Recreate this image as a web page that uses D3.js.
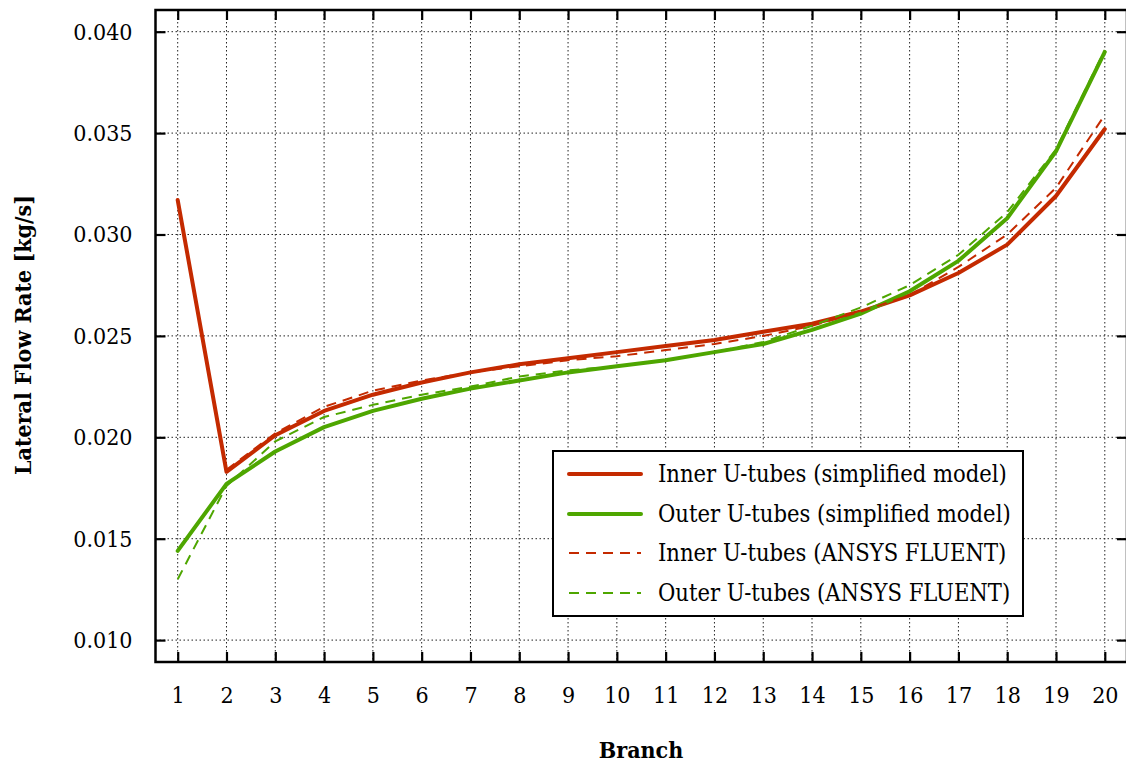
<!DOCTYPE html>
<html>
<head>
<meta charset="utf-8">
<script src="https://cdn.jsdelivr.net/npm/d3@7"></script>
<style>
  body { margin: 0; background: #fff; }
  svg text { font-family: "DejaVu Serif Condensed", "DejaVu Serif", serif; fill: #000; }
</style>
</head>
<body>
<div id="chart"></div>
<script>
// branches 1..20
var branches = d3.range(1, 21);

// lateral flow rate [kg/s]
var innerSimplified = [0.0317, 0.0183, 0.0201, 0.0213, 0.0221, 0.0227, 0.0232, 0.0236, 0.0239, 0.0242,
                       0.0245, 0.0248, 0.0252, 0.0256, 0.0262, 0.0270, 0.0281, 0.0295, 0.0319, 0.0352];
var outerSimplified = [0.0144, 0.0177, 0.0193, 0.0205, 0.0213, 0.0219, 0.0224, 0.0228, 0.0232, 0.0235,
                       0.0238, 0.0242, 0.0246, 0.0253, 0.0261, 0.0272, 0.0287, 0.0308, 0.0341, 0.0390];
var innerFluent = [null, 0.0184, 0.0202, 0.0215, 0.0223, 0.0228, 0.0232, 0.0235, 0.0238, 0.0240,
                   0.0243, 0.0246, 0.0250, 0.0255, 0.0262, 0.0270, 0.0284, 0.0300, 0.0323, 0.0359];
var outerFluent = [0.0130, 0.0176, 0.0198, 0.0210, 0.0216, 0.0221, 0.0225, 0.0230, 0.0233, 0.0235,
                   0.0238, 0.0242, 0.0247, 0.0255, 0.0264, 0.0275, 0.0290, 0.0311, 0.0342, 0.0391];

var seriesNames = ["Inner U-tubes (simplified model)", "Outer U-tubes (simplified model)",
                   "Inner U-tubes (ANSYS FLUENT)", "Outer U-tubes (ANSYS FLUENT)"];
var yTicks = [0.010, 0.015, 0.020, 0.025, 0.030, 0.035, 0.040];

var red = "#c42a00";
var green = "#4ea600";

var series = [
  { name: seriesNames[0], values: innerSimplified, color: red, width: 4, dash: null },
  { name: seriesNames[1], values: outerSimplified, color: green, width: 4, dash: null },
  { name: seriesNames[2], values: innerFluent, color: red, width: 2, dash: "10,7" },
  { name: seriesNames[3], values: outerFluent, color: green, width: 2, dash: "10,7" }
];

var W = 1126, H = 764;
// plot box edges (note: "top" would clash with window.top)
var pLeft = 155.5, pRight = 1127, pTop = 10, pBottom = 662;

var svg = d3.select("#chart").append("svg")
  .attr("width", W)
  .attr("height", H);

var x = d3.scaleLinear().domain([0.545, 20.455]).range([pLeft, pRight]);
var y = d3.scaleLinear().domain([0.00892, 0.04107]).range([pBottom, pTop]);

// dotted grid
var grid = svg.append("g").attr("class", "grid");
grid.selectAll(".vgrid")
  .data(branches)
  .enter().append("line")
  .attr("x1", function(d) { return x(d); })
  .attr("x2", function(d) { return x(d); })
  .attr("y1", pTop)
  .attr("y2", pBottom)
  .style("stroke", "#222")
  .style("stroke-width", 1)
  .style("stroke-dasharray", "1.5,2.5");
grid.selectAll(".hgrid")
  .data(yTicks)
  .enter().append("line")
  .attr("x1", pLeft)
  .attr("x2", pRight)
  .attr("y1", function(d) { return y(d); })
  .attr("y2", function(d) { return y(d); })
  .style("stroke", "#222")
  .style("stroke-width", 1)
  .style("stroke-dasharray", "1.5,2.5");

// axes, ticks pointing inward
function styleAxis(g, labels) {
  g.select(".domain").remove();
  g.selectAll(".tick line").style("stroke", "#000").style("stroke-width", 2.2);
  if (!labels) g.selectAll(".tick text").remove();
  else g.selectAll(".tick text").style("font-size", "23px").style("font-family", null);
}

svg.append("g")
  .attr("transform", "translate(" + pLeft + ",0)")
  .call(d3.axisLeft(y).tickValues(yTicks).tickSize(-10).tickPadding(23).tickFormat(d3.format(".3f")))
  .call(styleAxis, true);
svg.append("g")
  .attr("transform", "translate(" + pRight + ",0)")
  .call(d3.axisRight(y).tickValues(yTicks).tickSize(-10))
  .call(styleAxis, false);
svg.append("g")
  .attr("transform", "translate(0," + pBottom + ")")
  .call(d3.axisBottom(x).tickValues(branches).tickSize(-10).tickPadding(25).tickFormat(d3.format("d")))
  .call(styleAxis, true);
svg.append("g")
  .attr("transform", "translate(0," + pTop + ")")
  .call(d3.axisTop(x).tickValues(branches).tickSize(-10))
  .call(styleAxis, false);

// frame
svg.append("rect")
  .attr("x", pLeft)
  .attr("y", pTop)
  .attr("width", pRight - pLeft)
  .attr("height", pBottom - pTop)
  .style("fill", "none")
  .style("stroke", "#000")
  .style("stroke-width", 2.5);

// data lines
var line = d3.line()
  .defined(function(d) { return d.v != null; })
  .x(function(d) { return x(d.b); })
  .y(function(d) { return y(d.v); });

svg.selectAll(".series")
  .data(series)
  .enter().append("path")
  .attr("class", "series")
  .attr("d", function(s) {
    return line(s.values.map(function(v, i) { return { b: branches[i], v: v }; }));
  })
  .style("fill", "none")
  .style("stroke", function(s) { return s.color; })
  .style("stroke-width", function(s) { return s.width; })
  .style("stroke-dasharray", function(s) { return s.dash; })
  .style("stroke-linejoin", "round")
  .style("stroke-linecap", function(s) { return s.dash ? "butt" : "round"; });

// legend
var legend = svg.append("g").attr("class", "legend");
legend.append("rect")
  .attr("x", 553)
  .attr("y", 451)
  .attr("width", 470)
  .attr("height", 165)
  .style("fill", "#fff")
  .style("stroke", "#000")
  .style("stroke-width", 2);

var rowY = [474, 514, 553, 593];
var item = legend.selectAll(".item")
  .data(series)
  .enter().append("g")
  .attr("class", "item")
  .attr("transform", function(d, i) { return "translate(0," + rowY[i] + ")"; });
item.append("line")
  .attr("x1", 569)
  .attr("x2", 641)
  .style("stroke", function(s) { return s.color; })
  .style("stroke-width", function(s) { return s.width; })
  .style("stroke-dasharray", function(s) { return s.dash; })
  .style("stroke-linecap", function(s) { return s.dash ? "butt" : "round"; });
item.append("text")
  .attr("x", 658)
  .attr("dy", "0.35em")
  .style("font-size", "23.5px")
  .text(function(s) { return s.name; });

// axis titles
svg.append("text")
  .attr("x", 641)
  .attr("y", 758)
  .attr("text-anchor", "middle")
  .style("font-size", "23px")
  .style("font-weight", "bold")
  .text("Branch");
svg.append("text")
  .attr("transform", "translate(31,335) rotate(-90)")
  .attr("text-anchor", "middle")
  .style("font-size", "23px")
  .style("font-weight", "bold")
  .text("Lateral Flow Rate [kg/s]");
</script>
</body>
</html>
